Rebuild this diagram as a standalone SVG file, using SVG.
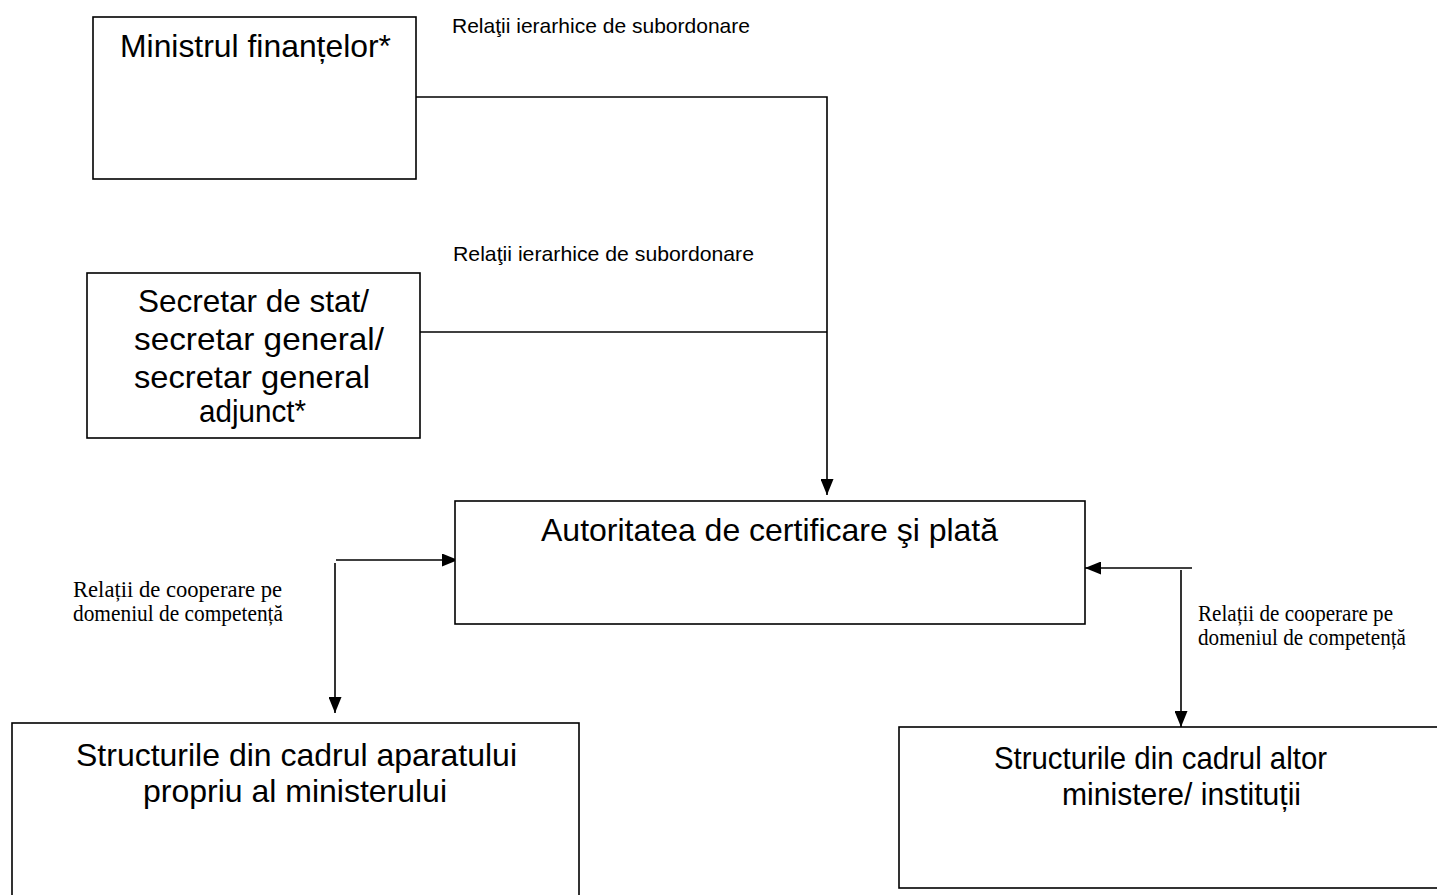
<svg xmlns="http://www.w3.org/2000/svg" width="1437" height="895" viewBox="0 0 1437 895">
<style>
.box{fill:#fff;stroke:#000;stroke-width:1.6}
.t{font-family:"Liberation Sans",Arial,sans-serif;font-size:32px;fill:#000}
.lab{font-family:"Liberation Sans",Arial,sans-serif;font-size:21px;fill:#000}
.tl{font-family:"Liberation Serif","Times New Roman",serif;font-size:22.5px;fill:#000}
.c{fill:none;stroke:#000;stroke-width:1.6}
</style>
<defs>
<marker id="ah" viewBox="0 0 16 13" refX="16" refY="6.5" markerWidth="16" markerHeight="13" markerUnits="userSpaceOnUse" orient="auto">
<path d="M0,0 L16,6.5 L0,13 Z" fill="#000"/>
</marker>
</defs>
<rect width="1437" height="895" fill="#fff"/>
<g id="connectors">
<path class="c" d="M416,97 H827 V495" marker-end="url(#ah)"/>
<path class="c" d="M420,332 H827"/>
<path class="c" d="M336,560 H458" marker-end="url(#ah)"/>
<path class="c" d="M335,563 V713" marker-end="url(#ah)"/>
<path class="c" d="M1192,568 H1085" marker-end="url(#ah)"/>
<path class="c" d="M1181,570 V727" marker-end="url(#ah)"/>
<text class="lab" x="452" y="33" textLength="298" lengthAdjust="spacingAndGlyphs">Relaţii ierarhice de subordonare</text>
<text class="lab" x="453" y="261" textLength="301" lengthAdjust="spacingAndGlyphs">Relaţii ierarhice de subordonare</text>
<text class="tl" x="73" y="597" textLength="209" lengthAdjust="spacingAndGlyphs">Relații de cooperare pe</text>
<text class="tl" x="73" y="621" textLength="210" lengthAdjust="spacingAndGlyphs">domeniul de competență</text>
<text class="tl" x="1198" y="621" textLength="195" lengthAdjust="spacingAndGlyphs">Relații de cooperare pe</text>
<text class="tl" x="1198" y="645" textLength="208" lengthAdjust="spacingAndGlyphs">domeniul de competență</text>
</g>
<g id="ministrul">
<rect class="box" x="93" y="17" width="323" height="162"/>
<text class="t" x="120" y="57" textLength="271" lengthAdjust="spacingAndGlyphs">Ministrul finanțelor*</text>
</g>
<g id="secretar">
<rect class="box" x="87" y="273" width="333" height="165"/>
<text class="t" x="138" y="312" textLength="231" lengthAdjust="spacingAndGlyphs">Secretar de stat/</text>
<text class="t" x="134" y="350" textLength="250" lengthAdjust="spacingAndGlyphs">secretar general/</text>
<text class="t" x="134" y="388" textLength="236" lengthAdjust="spacingAndGlyphs">secretar general</text>
<text class="t" x="199" y="422" textLength="107" lengthAdjust="spacingAndGlyphs">adjunct*</text>
</g>
<g id="autoritatea">
<rect class="box" x="455" y="501" width="630" height="123"/>
<text class="t" x="541" y="541" textLength="457" lengthAdjust="spacingAndGlyphs">Autoritatea de certificare şi plată</text>
</g>
<g id="structuri-proprii">
<rect class="box" x="12" y="723" width="567" height="180"/>
<text class="t" x="76" y="766" textLength="441" lengthAdjust="spacingAndGlyphs">Structurile din cadrul aparatului</text>
<text class="t" x="143" y="802" textLength="304" lengthAdjust="spacingAndGlyphs">propriu al ministerului</text>
</g>
<g id="structuri-alte">
<rect class="box" x="899" y="727" width="545" height="161"/>
<text class="t" x="994" y="769" textLength="333" lengthAdjust="spacingAndGlyphs">Structurile din cadrul altor</text>
<text class="t" x="1062" y="805" textLength="239" lengthAdjust="spacingAndGlyphs">ministere/ instituții</text>
</g>
</svg>
